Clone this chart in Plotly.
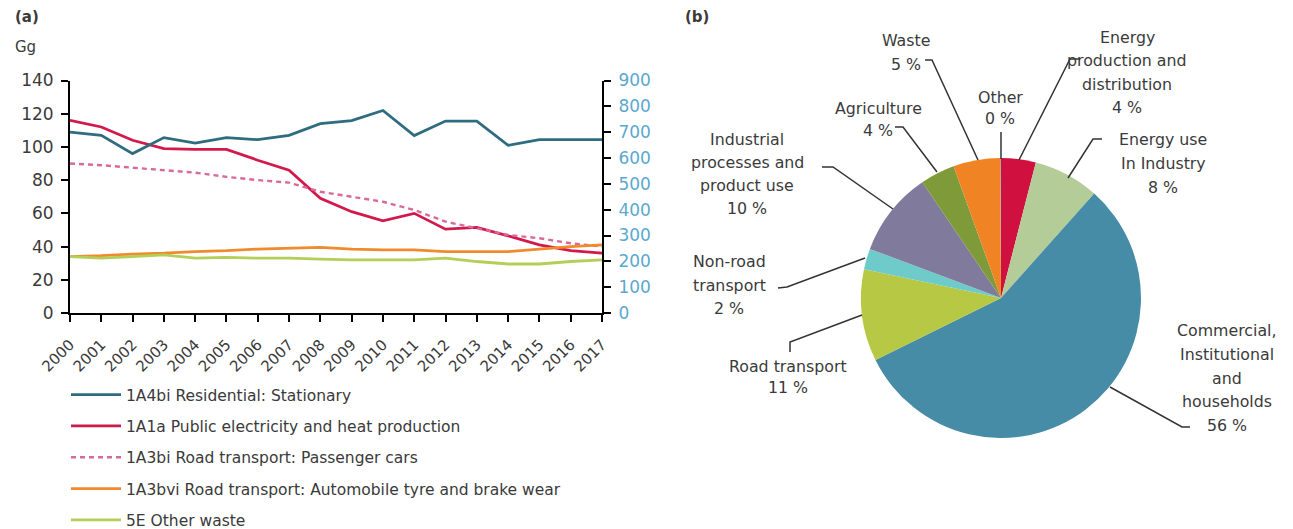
import plotly.graph_objects as go

W, H = 1293, 529
OFF = 8  # page body margin of the rendered html

# ---------------- data ----------------
years = list(range(2000, 2018))
residential = [700, 688, 617, 679, 658, 679, 671, 688, 733, 745, 784, 687, 743, 743, 649, 671, 671, 671]
public_elec = [116, 112, 104, 99, 98.5, 98.5, 92, 86, 69, 61, 55.5, 60, 50.5, 51.5, 46.5, 41, 37.5, 36]
passenger_cars = [90, 89, 87.5, 86, 84.5, 82, 80, 78.5, 73, 70, 67, 62, 55, 51, 47, 45, 42, 40]
tyre_brake = [34, 34.5, 35.5, 36, 37, 37.5, 38.5, 39, 39.5, 38.5, 38, 38, 37, 37, 37, 38.5, 40, 41]
other_waste = [34, 33, 34, 35, 33, 33.5, 33, 33, 32.5, 32, 32, 32, 33, 31, 29.5, 29.5, 31, 32]

series_names = [
    "1A4bi Residential: Stationary",
    "1A1a Public electricity and heat production",
    "1A3bi Road transport: Passenger cars",
    "1A3bvi Road transport: Automobile tyre and brake wear",
    "5E Other waste",
]

left_ticks = [0, 20, 40, 60, 80, 100, 120, 140]
right_ticks = [0, 100, 200, 300, 400, 500, 600, 700, 800, 900]

pie_labels = [
    "Energy production and distribution",
    "Energy use in industry",
    "Commercial, institutional and households",
    "Road transport",
    "Non-road transport",
    "Industrial processes and product use",
    "Agriculture",
    "Waste",
    "Other",
]
pie_values = [4.0, 7.6, 56.1, 10.6, 2.4, 9.8, 4.0, 5.4, 0.1]
pie_text_lines = [
    ["Energy", "production and", "distribution"],
    ["Energy use", "In Industry"],
    ["Commercial,", "Institutional", "and", "households"],
    ["Road transport"],
    ["Non-road", "transport"],
    ["Industrial", "processes and", "product use"],
    ["Agriculture"],
    ["Waste"],
    ["Other"],
]
pie_colors = ["#d0103f", "#b3cc98", "#468ca6", "#b6c844", "#6fcbc9",
              "#807b9c", "#7f9a38", "#f08323", "#9a9a9a"]

# ---------------- styling ----------------
FONT = "DejaVu Sans"
TXT = "#3a3a3a"
col_res = "#2f6c7f"
col_pub = "#d2194c"
col_car = "#d9699a"
col_tyre = "#f08a2c"
col_waste = "#b3cf58"


def px(x):
    return (x - OFF) / W


def py(y):
    return 1 - (y - OFF) / H


fig = go.Figure()

fig.add_trace(go.Scatter(x=years, y=residential, name=series_names[0], yaxis="y2",
                         mode="lines", line=dict(color=col_res, width=2.8),
                         legendgroup="g0"))
fig.add_trace(go.Scatter(x=years, y=public_elec, name=series_names[1],
                         mode="lines", line=dict(color=col_pub, width=2.8),
                         legendgroup="g1"))
fig.add_trace(go.Scatter(x=years, y=passenger_cars, name=series_names[2],
                         mode="lines", line=dict(color=col_car, width=2.4, dash="5px,4px"),
                         legendgroup="g2"))
fig.add_trace(go.Scatter(x=years, y=tyre_brake, name=series_names[3],
                         mode="lines", line=dict(color=col_tyre, width=2.8),
                         legendgroup="g3"))
fig.add_trace(go.Scatter(x=years, y=other_waste, name=series_names[4],
                         mode="lines", line=dict(color=col_waste, width=2.8),
                         legendgroup="g4"))

# pie
fig.add_trace(go.Pie(labels=pie_labels, values=pie_values, sort=False,
                     direction="clockwise", rotation=0,
                     marker=dict(colors=pie_colors, line=dict(width=0)),
                     textinfo="none", showlegend=False,
                     domain=dict(x=[px(861), px(1141)], y=[py(438), py(158)])))

axis_common = dict(showline=True, linecolor="black", linewidth=2,
                   ticks="outside", ticklen=7, tickwidth=2, tickcolor="black",
                   showgrid=False, zeroline=False)

fig.update_layout(
    width=W, height=H,
    margin=dict(l=0, r=0, t=0, b=0, autoexpand=False),
    paper_bgcolor="white", plot_bgcolor="white",
    font=dict(family=FONT, color=TXT, size=14),
    xaxis=dict(domain=[px(70), px(602)], range=[2000, 2017],
               tickvals=years, ticktext=[str(y) for y in years], tickangle=-45,
               tickfont=dict(size=15, color=TXT), ticklabelstandoff=8, **axis_common),
    yaxis=dict(domain=[py(313), py(80.5)], range=[0, 140], tickvals=left_ticks,
               tickfont=dict(size=17, color=TXT), ticklabelstandoff=4, **axis_common),
    yaxis2=dict(domain=[py(313), py(80.5)], range=[0, 900], tickvals=right_ticks,
                overlaying="y", side="right", anchor="x",
                tickfont=dict(size=17, color="#5ba8cf"), ticklabelstandoff=4,
                **axis_common),
    legend=dict(x=px(66), y=py(378), xanchor="left", yanchor="top",
                font=dict(size=15.5, color=TXT), tracegroupgap=8.2,
                itemwidth=50, bgcolor="rgba(0,0,0,0)"),
    showlegend=True,
)

annotations = [
    dict(text="<b>(a)</b>", x=px(13), y=py(17), xanchor="left", yanchor="middle"),
    dict(text="Gg", x=px(13), y=py(47), xanchor="left", yanchor="middle"),
    dict(text="<b>(b)</b>", x=px(683), y=py(17), xanchor="left", yanchor="middle"),
]

# pie label placement (centre x, first-line y, line spacing) in pixels
label_pos = [
    (1127, 38, 23),
    (1163, 140, 23.5),
    (1227, 331, 23.5),
    (788, 366, 21),
    (729, 262, 23),
    (747, 140, 22.7),
    (878, 108, 22.5),
    (906, 40, 24.5),
    (1000, 97, 21),
]
for lines, val, (cx, y0, dy) in zip(pie_text_lines, pie_values, label_pos):
    all_lines = lines + ["%d %%" % round(val)]
    for i, t in enumerate(all_lines):
        annotations.append(dict(text=t, x=px(cx), y=py(y0 + i * dy),
                                xanchor="center", yanchor="middle",
                                font=dict(size=15.8, color=TXT)))

for a in annotations:
    a.setdefault("xref", "paper")
    a.setdefault("yref", "paper")
    a.setdefault("showarrow", False)
    a.setdefault("font", dict(size=15, color=TXT))
fig.update_layout(annotations=annotations)

# leader lines (pixel paths)
leaders = [
    [(1080, 59), (1070, 59), (1019, 160)],
    [(1102, 139), (1093, 139), (1068, 178)],
    [(1190, 427), (1182, 427), (1110, 387)],
    [(790, 352), (790, 342), (862, 315)],
    [(778, 288), (787, 287), (865, 258)],
    [(822, 167), (833, 167), (893, 209)],
    [(895, 127), (903, 127), (937, 172)],
    [(925, 60), (932, 60), (978, 160)],
    [(1001, 132), (1001, 159)],
]
shapes = []
for pts in leaders:
    path = "M " + " L ".join("%.5f,%.5f" % (px(x), py(y)) for x, y in pts)
    shapes.append(dict(type="path", path=path, xref="paper", yref="paper",
                       line=dict(color="#333333", width=1.5)))
fig.update_layout(shapes=shapes)

fig.write_html("out.html")
